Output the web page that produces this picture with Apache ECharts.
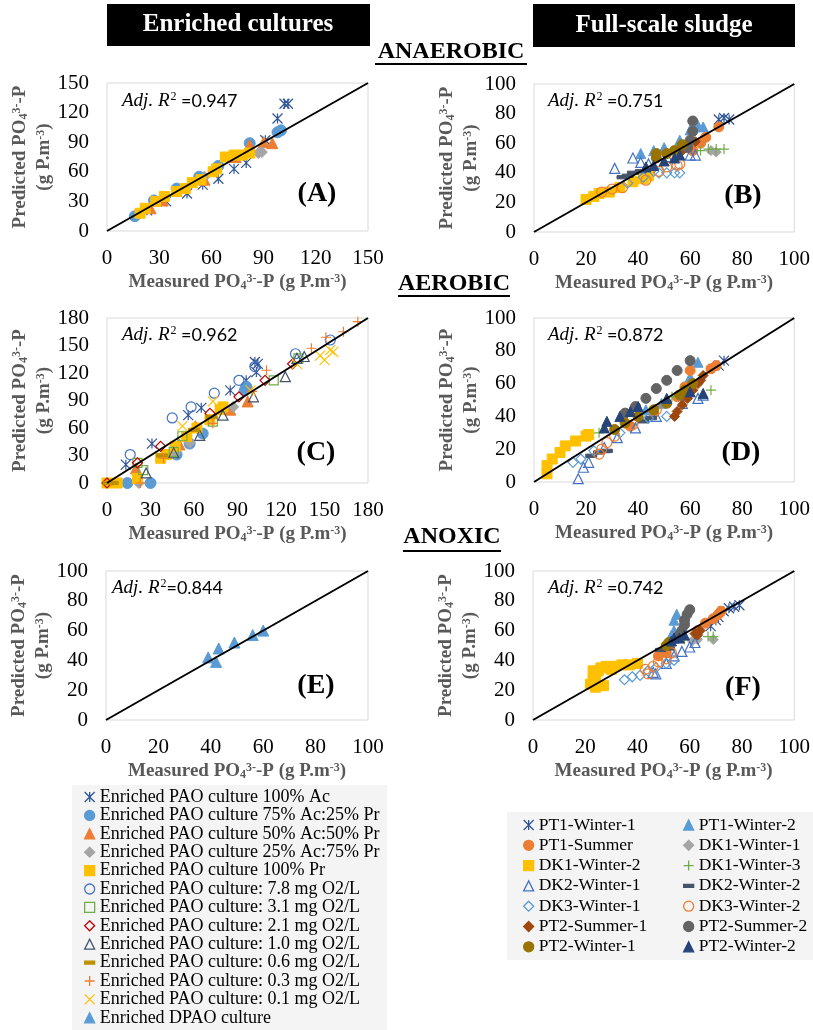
<!DOCTYPE html>
<html>
<head>
    <meta charset="utf-8" />
    <title>Measured vs predicted PO4-P</title>
    <script src="https://cdn.jsdelivr.net/npm/echarts@6/dist/echarts.min.js"></script>
    <style>
        html, body { margin: 0; padding: 0; background: #fff; }
        #main { width: 813px; height: 1030px; }
    </style>
</head>
<body>
<div id="main"></div>
<script>
    // axis range and tick step of panels A..F
    var axisMax = [150, 100, 180, 100, 100, 100];
    var axisStep = [30, 20, 30, 20, 20, 20];
    var r2Values = ['0.947', '0.751', '0.962', '0.872', '0.844', '0.742'];
    var panelTags = ['(A)', '(B)', '(C)', '(D)', '(E)', '(F)'];

    var enrichedNames = ['Enriched PAO culture 100% Ac', 'Enriched PAO culture 75% Ac:25% Pr',
        'Enriched PAO culture 50% Ac:50% Pr', 'Enriched PAO culture 25% Ac:75% Pr',
        'Enriched PAO culture 100% Pr', 'Enriched PAO culture: 7.8 mg O2/L',
        'Enriched PAO culture: 3.1 mg O2/L', 'Enriched PAO culture: 2.1 mg O2/L',
        'Enriched PAO culture: 1.0 mg O2/L', 'Enriched PAO culture: 0.6 mg O2/L',
        'Enriched PAO culture: 0.3 mg O2/L', 'Enriched PAO culture: 0.1 mg O2/L',
        'Enriched DPAO culture'];
    var sludgeNames = ['PT1-Winter-1', 'PT1-Winter-2', 'PT1-Summer', 'DK1-Winter-1', 'DK1-Winter-2',
        'DK1-Winter-3', 'DK2-Winter-1', 'DK2-Winter-2', 'DK3-Winter-1', 'DK3-Winter-2',
        'PT2-Summer-1', 'PT2-Summer-2', 'PT2-Winter-1', 'PT2-Winter-2'];

    // (A) enriched, anaerobic  [measured, predicted]
    var aAc100 = [[23, 21], [34, 30], [46, 38], [55, 47], [64, 53], [73, 63], [80, 69], [91, 92], [98, 114], [102, 129], [104, 129]];
    var aAc75 = [[16, 15], [27, 31], [40, 43], [53, 55], [64, 66], [82, 89], [98, 100], [100, 102]];
    var aAc50 = [[25, 23], [32, 31], [56, 52], [74, 75], [82, 87], [90, 90], [95, 89]];
    var aAc25 = [[56, 55], [87, 79], [89, 80]];
    var aPr100 = [[19, 18], [22, 23], [28, 30], [33, 35], [40, 40], [45, 43], [49, 49], [54, 52], [61, 60], [63, 63], [68, 75], [73, 77], [78, 77], [82, 79]];

    // (C) enriched, aerobic
    var cAc100 = [[13, 20], [31, 43], [56, 74], [65, 82], [85, 101], [96, 112], [103, 121], [104, 130], [102, 132]];
    var cAc75 = [[14, 0], [30, 0], [48, 31], [57, 43], [66, 54], [96, 105], [95, 101]];
    var cAc50 = [[20, 16], [50, 42], [61, 62], [85, 80], [97, 89]];
    var cAc25 = [[22, 0], [47, 32], [57, 44], [87, 83]];
    var cPr100 = [[0, 0], [7, 0], [21, 5], [37, 27], [41, 31], [47, 40], [55, 51], [62, 60], [71, 69], [78, 80], [80, 83]];
    var cDo78 = [[16, 31], [45, 71], [58, 83], [74, 98], [91, 112], [102, 127], [130, 141], [154, 156]];
    var cDo31 = [[21, 22], [25, 14], [46, 34], [52, 51], [73, 67], [115, 112], [132, 136]];
    var cDo21 = [[0, 0], [21, 22], [37, 40], [71, 76], [91, 94], [109, 112], [128, 130]];
    var cDo10 = [[27, 11], [46, 33], [64, 52], [80, 74], [101, 94], [123, 116], [131, 136], [136, 138]];
    var cDo06 = [[1, 0], [4, 0], [38, 30], [60, 58], [72, 72]];
    var cDo03 = [[23, 0], [39, 27], [73, 65], [100, 100], [110, 123], [141, 147], [151, 159], [163, 165], [173, 176]];
    var cDo01 = [[52, 62], [73, 89], [99, 101], [131, 130], [147, 139], [150, 134], [154, 145], [156, 143]];

    // (E) enriched, anoxic
    var eDpao = [[39, 42], [42, 39], [43, 48], [49, 52], [56, 57], [60, 60]];

    // (B) full-scale, anaerobic
    var bPT1W1 = [[71, 76], [73, 77], [75, 76]];
    var bPT1W2 = [[41, 53], [46, 55], [50, 57], [56, 62], [60, 69], [63, 72], [65, 71]];
    var bPT1S = [[61, 55], [64, 60], [66, 64], [71, 71]];
    var bDK1W1 = [[68, 55], [70, 54]];
    var bDK1W2 = [[20, 22], [23, 24], [25, 26], [29, 27], [33, 30], [38, 34], [42, 36], [44, 38]];
    var bDK1W3 = [[64, 55], [67, 56], [70, 56], [73, 56]];
    var bDK2W1 = [[38, 50], [41, 47], [44, 46], [51, 51], [60, 52], [62, 52], [31, 43]];
    var bDK2W2 = [[34, 37], [36, 38], [38, 40], [41, 41]];
    var bDK3W1 = [[36, 33], [42, 37], [46, 41], [48, 40], [51, 40], [54, 40], [56, 40]];
    var bDK3W2 = [[26, 27], [30, 29], [34, 30], [43, 35], [48, 41], [51, 44], [55, 45], [56, 46]];
    var bPT2S1 = [[57, 55], [59, 59], [62, 61]];
    var bPT2S2 = [[59, 57], [60, 62], [61, 68], [61, 75]];
    var bPT2W1 = [[47, 50], [47, 53], [51, 53], [54, 55], [57, 59]];
    var bPT2W2 = [[43, 44], [46, 45], [50, 48], [54, 50], [56, 52]];

    // (D) full-scale, aerobic
    var dPT1W1 = [[71, 71], [73, 74]];
    var dPT1W2 = [[43, 44], [49, 48], [60, 64], [63, 73]];
    var dPT1S = [[37, 34], [46, 42], [55, 52], [58, 58], [60, 68], [68, 69], [70, 71]];
    var dDK1W1 = [[55, 53], [57, 54]];
    var dDK1W2 = [[5, 5], [5, 10], [7, 14], [10, 18], [12, 22], [16, 25], [20, 28], [21, 29]];
    var dDK1W3 = [[25, 30], [53, 52], [68, 56]];
    var dDK2W1 = [[17, 2], [19, 9], [21, 12], [27, 21], [32, 27], [39, 33], [47, 40], [57, 48], [63, 51], [65, 53]];
    var dDK2W2 = [[22, 16], [25, 18], [28, 19], [42, 37], [45, 39]];
    var dDK3W1 = [[15, 12], [18, 14], [23, 19], [33, 30], [44, 39], [51, 40]];
    var dDK3W2 = [[25, 17], [26, 20], [28, 24], [31, 28], [38, 35], [47, 44]];
    var dPT2S1 = [[54, 40], [55, 43], [57, 47], [59, 51], [61, 56], [63, 60], [64, 62], [65, 65]];
    var dPT2S2 = [[35, 42], [39, 46], [43, 51], [47, 57], [51, 62], [55, 68], [60, 74]];
    var dPT2W1 = [[31, 32], [35, 36], [40, 40], [46, 44], [51, 48], [56, 53], [58, 56], [61, 60]];
    var dPT2W2 = [[27, 33], [28, 37], [33, 40], [37, 43], [40, 46], [51, 51], [60, 55], [65, 54]];

    // (F) full-scale, anoxic
    var fPT1W1 = [[68, 63], [70, 67], [71, 69], [73, 73], [75, 75], [77, 76], [79, 77]];
    var fPT1W2 = [[53, 57], [54, 60], [54, 67], [55, 71]];
    var fPT1S = [[48, 43], [51, 45], [63, 60], [66, 65], [69, 68], [71, 71], [72, 73]];
    var fDK1W1 = [[61, 53], [63, 54], [69, 54]];
    var fDK1W2 = [[22, 24], [23, 27], [24, 30], [25, 33], [26, 35], [28, 36], [31, 36], [34, 37], [37, 37], [40, 38], [24, 22], [27, 23], [23, 33], [30, 34]];
    var fDK1W3 = [[58, 54], [67, 56], [69, 56]];
    var fDK2W1 = [[46, 32], [47, 31], [51, 38], [54, 43], [57, 46], [60, 49], [62, 52]];
    var fDK2W2 = [[49, 47], [52, 48]];
    var fDK3W1 = [[35, 27], [38, 29], [41, 30], [44, 33], [47, 35], [51, 38], [54, 40]];
    var fDK3W2 = [[43, 34], [44, 31], [46, 36], [48, 39], [51, 41], [53, 45]];
    var fPT2S1 = [[62, 58], [63, 57], [64, 60]];
    var fPT2S2 = [[56, 57], [57, 60], [58, 64], [58, 67], [59, 71], [60, 74]];
    var fPT2W1 = [[51, 50], [52, 52]];
    var fPT2W2 = [[53, 53], [54, 55], [56, 55], [58, 57]];

    // ---- layout and marker styles ----
    var ASTER = 'path://M0,0L10,10M10,0L0,10M5,0L5,10';
    var PLUS = 'path://M5,0L5,10M0,5L10,5';
    var XMARK = 'path://M0,0L10,10M10,0L0,10';
    var DASH = 'path://M0,0L10,0L10,3L0,3Z';

    function filled(sym, c, size) { return { sym: sym, c: c, fill: c, size: size || 10, bw: 1 }; }
    function open(sym, c, size) { return { sym: sym, c: c, fill: 'rgba(0,0,0,0)', size: size || 10, bw: 1.2 }; }

    var enrichedStyles = [
        open(ASTER, '#2F5597', 10), filled('circle', '#5B9BD5', 11), filled('triangle', '#ED7D31', 11),
        filled('diamond', '#A5A5A5', 11), filled('rect', '#FFC000', 10), open('circle', '#4472C4', 10),
        open('rect', '#70AD47', 9), open('diamond', '#C00000', 10), open('triangle', '#44546A', 10),
        filled(DASH, '#BF9000', 11), open(PLUS, '#ED7D31', 10), open(XMARK, '#FFC000', 10),
        filled('triangle', '#5B9BD5', 11)
    ];
    var sludgeStyles = [
        open(ASTER, '#2F5597', 10), filled('triangle', '#5B9BD5', 10), filled('circle', '#ED7D31', 10),
        filled('diamond', '#A5A5A5', 10), filled('rect', '#FFC000', 10), open(PLUS, '#70AD47', 10),
        open('triangle', '#4472C4', 10), filled(DASH, '#44546A', 11), open('diamond', '#5B9BD5', 10),
        open('circle', '#ED7D31', 10), filled('diamond', '#9E480E', 10), filled('circle', '#636363', 10),
        filled('circle', '#997300', 10), filled('triangle', '#264478', 10)
    ];

    var grids = [
        { left: 107, top: 83, width: 261, height: 148 },
        { left: 534, top: 84, width: 261, height: 148 },
        { left: 107, top: 318, width: 261, height: 165 },
        { left: 534, top: 318, width: 262, height: 164 },
        { left: 106, top: 571, width: 262, height: 149 },
        { left: 533, top: 571, width: 264, height: 149 }
    ];
    var r2Pos = [[122, 98], [548, 98], [122, 332], [548, 332], [112, 585], [548, 585]];
    var tagPos = [[317, 194], [743, 196], [316, 453], [741, 453], [316, 686], [743, 688]];

    var panels = [
        { names: enrichedNames, styles: enrichedStyles, idx: [0, 1, 2, 3, 4], data: [aAc100, aAc75, aAc50, aAc25, aPr100] },
        { names: sludgeNames, styles: sludgeStyles, idx: [0, 1, 2, 3, 4, 5, 6, 7, 8, 9, 10, 11, 12, 13],
            data: [bPT1W1, bPT1W2, bPT1S, bDK1W1, bDK1W2, bDK1W3, bDK2W1, bDK2W2, bDK3W1, bDK3W2, bPT2S1, bPT2S2, bPT2W1, bPT2W2] },
        { names: enrichedNames, styles: enrichedStyles, idx: [0, 1, 2, 3, 4, 5, 6, 7, 8, 9, 10, 11],
            data: [cAc100, cAc75, cAc50, cAc25, cPr100, cDo78, cDo31, cDo21, cDo10, cDo06, cDo03, cDo01] },
        { names: sludgeNames, styles: sludgeStyles, idx: [0, 1, 2, 3, 4, 5, 6, 7, 8, 9, 10, 11, 12, 13],
            data: [dPT1W1, dPT1W2, dPT1S, dDK1W1, dDK1W2, dDK1W3, dDK2W1, dDK2W2, dDK3W1, dDK3W2, dPT2S1, dPT2S2, dPT2W1, dPT2W2] },
        { names: enrichedNames, styles: enrichedStyles, idx: [12], data: [eDpao] },
        { names: sludgeNames, styles: sludgeStyles, idx: [0, 1, 2, 3, 4, 5, 6, 7, 8, 9, 10, 11, 12, 13],
            data: [fPT1W1, fPT1W2, fPT1S, fDK1W1, fDK1W2, fDK1W3, fDK2W1, fDK2W2, fDK3W1, fDK3W2, fPT2S1, fPT2S2, fPT2W1, fPT2W2] }
    ];

    var SERIF = "'Liberation Serif', 'Times New Roman', serif";
    var GRAY = '#595959';
    var nameRich = {
        b: { fontFamily: SERIF, fontWeight: 'bold', fontSize: 19, color: GRAY, lineHeight: 24, verticalAlign: 'bottom' },
        sup: { fontFamily: SERIF, fontWeight: 'bold', fontSize: 12, color: GRAY, verticalAlign: 'top', padding: [5, 0, 0, 0] },
        sub: { fontFamily: SERIF, fontWeight: 'bold', fontSize: 12, color: GRAY, verticalAlign: 'bottom', padding: [0, 0, 0, 0] }
    };
    var xName = '{b|Measured PO}{sub|4}{sup|3-}{b|-P (g P.m}{sup|-3}{b|)}';
    var yName = '{b|Predicted PO}{sub|4}{sup|3-}{b|-P}\n{b|(g P.m}{sup|-3}{b|)}';

    var xAxes = [], yAxes = [], series = [], graphics = [];
    grids.forEach(function (g, i) {
        g.show = true;
        g.borderColor = '#d9d9d9';
        g.borderWidth = 1;
        var common = {
            type: 'value', gridIndex: i, min: 0, max: axisMax[i], interval: axisStep[i],
            axisLine: { show: false }, axisTick: { show: false }, splitLine: { show: false },
            nameLocation: 'middle', nameTextStyle: { rich: nameRich }
        };
        xAxes.push(Object.assign({}, common, {
            name: xName, nameGap: 37,
            axisLabel: { fontFamily: SERIF, fontSize: 21, color: '#000', margin: 17 }
        }));
        yAxes.push(Object.assign({}, common, {
            name: yName, nameGap: 41, nameRotate: 90,
            axisLabel: { fontFamily: SERIF, fontSize: 21, color: '#000', margin: 18 }
        }));

        var p = panels[i];
        p.idx.forEach(function (k, j) {
            var st = p.styles[k];
            series.push({
                type: 'scatter', name: p.names[k], xAxisIndex: i, yAxisIndex: i,
                data: p.data[j], symbol: st.sym, symbolSize: st.size,
                symbolKeepAspect: st.sym === DASH,
                itemStyle: { color: st.fill, borderColor: st.c, borderWidth: st.bw, opacity: 1 },
                emphasis: { disabled: true }
            });
        });
        // 1:1 line
        series.push({
            type: 'line', xAxisIndex: i, yAxisIndex: i, symbol: 'none', silent: true, z: 5,
            data: [[0, 0], [axisMax[i], axisMax[i]]],
            lineStyle: { color: '#000', width: 2 }
        });

        graphics.push({
            type: 'text', x: r2Pos[i][0], y: r2Pos[i][1], z: 10,
            style: {
                text: '{i|Adj. R}{s|2}{n|' + (i === 4 ? '' : ' ') + '=' + r2Values[i] + '}',
                verticalAlign: 'middle',
                rich: {
                    i: { fontFamily: SERIF, fontStyle: 'italic', fontSize: 19, lineHeight: 24, verticalAlign: 'bottom', fill: '#000' },
                    s: { fontFamily: SERIF, fontSize: 12, verticalAlign: 'top', padding: [5, 0, 0, 1], fill: '#000' },
                    n: { fontFamily: "'Lato', 'Open Sans', sans-serif", fontSize: 18, lineHeight: 24, verticalAlign: 'bottom', fill: '#000' }
                }
            }
        });
        graphics.push({
            type: 'text', x: tagPos[i][0], y: tagPos[i][1], z: 10,
            style: { text: panelTags[i], fontFamily: SERIF, fontWeight: 'bold', fontSize: 28, fill: '#000', align: 'center', verticalAlign: 'middle' }
        });
    });

    // column headers
    graphics.push({ type: 'rect', shape: { x: 107, y: 4, width: 263, height: 42 }, style: { fill: '#000' } });
    graphics.push({ type: 'text', x: 238, y: 25, style: { text: 'Enriched cultures', fontFamily: SERIF, fontWeight: 'bold', fontSize: 25, fill: '#fff', align: 'center', verticalAlign: 'middle' } });
    graphics.push({ type: 'rect', shape: { x: 533, y: 4, width: 262, height: 43 }, style: { fill: '#000' } });
    graphics.push({ type: 'text', x: 664, y: 26, style: { text: 'Full-scale sludge', fontFamily: SERIF, fontWeight: 'bold', fontSize: 25, fill: '#fff', align: 'center', verticalAlign: 'middle' } });

    // process titles, underlined
    [['ANAEROBIC', 451, 52, 375, 527, 63], ['AEROBIC', 454, 284, 398, 510, 295], ['ANOXIC', 452, 537, 403, 501, 550]].forEach(function (t) {
        graphics.push({ type: 'text', x: t[1], y: t[2], style: { text: t[0], fontFamily: SERIF, fontWeight: 'bold', fontSize: 24, fill: '#000', align: 'center', verticalAlign: 'middle' } });
        graphics.push({ type: 'rect', shape: { x: t[3], y: t[5], width: t[4] - t[3], height: 2 }, style: { fill: '#000' } });
    });

    // legend boxes
    graphics.push({ type: 'rect', z: -1, shape: { x: 72, y: 785, width: 315, height: 245 }, style: { fill: '#f4f4f4' } });
    graphics.push({ type: 'rect', z: -1, shape: { x: 507, y: 812, width: 306, height: 148 }, style: { fill: '#f4f4f4' } });

    var legendBase = {
        orient: 'vertical', itemWidth: 10, itemHeight: 10, padding: 0, selectedMode: false,
        itemStyle: { borderWidth: 1.3 }
    };
    var sludgeCol1 = [0, 2, 4, 6, 8, 10, 12].map(function (k) { return sludgeNames[k]; });
    var sludgeCol2 = [1, 3, 5, 7, 9, 11, 13].map(function (k) { return sludgeNames[k]; });

    var option = {
        animation: false,
        backgroundColor: '#fff',
        grid: grids,
        xAxis: xAxes,
        yAxis: yAxes,
        legend: [
            Object.assign({}, legendBase, { data: enrichedNames, left: 84, top: 788, itemGap: 0.4,
                textStyle: { fontFamily: SERIF, fontSize: 18, lineHeight: 18, color: '#000' } }),
            Object.assign({}, legendBase, { data: sludgeCol1, left: 523, top: 816, itemGap: 2.3,
                textStyle: { fontFamily: SERIF, fontSize: 17.5, lineHeight: 18, color: '#000' } }),
            Object.assign({}, legendBase, { data: sludgeCol2, left: 683, top: 816, itemGap: 2.3,
                textStyle: { fontFamily: SERIF, fontSize: 17.5, lineHeight: 18, color: '#000' } })
        ],
        graphic: graphics,
        series: series
    };

    var myChart = echarts.init(document.getElementById('main'));
    myChart.setOption(option);
</script>
</body>
</html>
